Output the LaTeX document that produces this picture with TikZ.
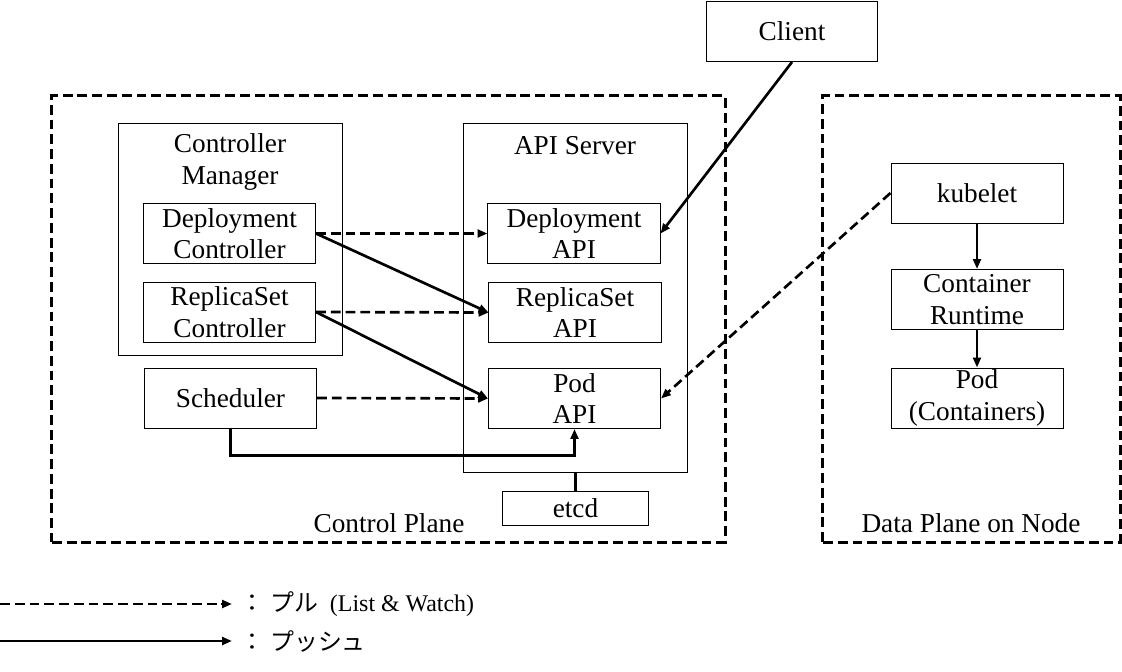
\documentclass[tikz,border=0pt]{standalone}
\usepackage{fontspec}
\setmainfont{Liberation Serif}
\newfontfamily\jp{Noto Sans CJK JP}
\usetikzlibrary{arrows.meta}

\tikzset{
  box/.style={draw, line width=0.7pt, minimum width=4.3cm, minimum height=1.5cm, align=center, inner sep=0pt},
  frame/.style={draw, line width=0.7pt, inner sep=0pt},
  plane/.style={draw, line width=2.1pt, dash pattern=on 7pt off 3.5pt, inner sep=0pt},
  push/.style={-{Triangle[length=7pt,width=5.5pt]}, line width=1.9pt},
  pull/.style={push, dash pattern=on 7pt off 3.5pt},
}

\begin{document}
\begin{tikzpicture}[x=0.025cm, y=-0.025cm, font=\fontsize{19.4}{22.5}\selectfont]
        \useasboundingbox (0,0) rectangle (1122,671);
        % 枠
        \node[plane, minimum width=16.825cm, minimum height=11.15cm] (cplane) at (388.5,319) {};
        \node[plane, minimum width=7.425cm, minimum height=11.15cm] (dplane) at (971.5,319) {};
        \node[frame, minimum width=5.575cm, minimum height=5.775cm] (cm) at (230.5,239.5) {};
        \node[frame, minimum width=5.575cm, minimum height=8.7cm] (apisrv) at (575.5,298) {};
        \node[align=center] (cmlabel) at (230,162) {Controller\\Manager};
        \node (apilabel) at (575,146) {API Server};
        \node (cplabel) at (389,523) {Control Plane};
        \node (dplabel) at (971,523) {Data Plane on Node};
        % ボックス
        \node[box, minimum width=4.25cm] (client) at (792,31.5) {Client};
        \node[box] (dctrl) at (229.5,233.5) {Deployment\\Controller};
        \node[box] (rctrl) at (229.5,312) {ReplicaSet\\Controller};
        \node[box] (sched) at (230.5,398) {Scheduler};
        \node[box] (dapi) at (574,233.5) {Deployment\\API};
        \node[box] (rapi) at (575,312.5) {ReplicaSet\\API};
        \node[box] (papi) at (574.5,398.5) {Pod\\API};
        \node[box, minimum width=3.625cm, minimum height=0.85cm] (etcd) at (575.5,508) {etcd};
        \node[box] (kubelet) at (977,193) {kubelet};
        \node[box] (crt) at (977,299.5) {Container\\Runtime};
        \node[box] (pod) at (977,398) {Pod\\(Containers)};
        % プル
        \draw[pull] (dctrl.east) -- (dapi.west);
        \draw[pull] (rctrl.east) -- (rapi.west);
        \draw[pull] (sched.east) -- (papi.west);
        \draw[pull] (kubelet.west) -- (papi.east);
        % プッシュ
        \draw[push] (dctrl.east) -- (rapi.west);
        \draw[push] (rctrl.east) -- (papi.west);
        \draw[push] (sched.south) -- ++(0,27) -| (papi.south);
        \draw[push] (client.south) -- (dapi.east);
        \draw[push] (kubelet.south) -- (crt.north);
        \draw[push] (crt.south) -- (pod.north);
        \draw[line width=1.9pt] (apisrv.south) -- (etcd.north);
        % 凡例
        \coordinate (lg1s) at (0,604);
        \coordinate (lg1e) at (232,604);
        \coordinate (lg2s) at (0,641);
        \coordinate (lg2e) at (232,641);
        \draw[pull] (lg1s) -- (lg1e);
        \draw[push] (lg2s) -- (lg2e);
        \node[anchor=west, font=\fontsize{17}{20}\selectfont] (lg1) at (236,604) {{\jp ： プル}\ \ (List \& Watch)};
        \node[anchor=west, font=\fontsize{17}{20}\selectfont] (lg2) at (236,641) {\jp ： プッシュ};
    \end{tikzpicture}
\end{document}
